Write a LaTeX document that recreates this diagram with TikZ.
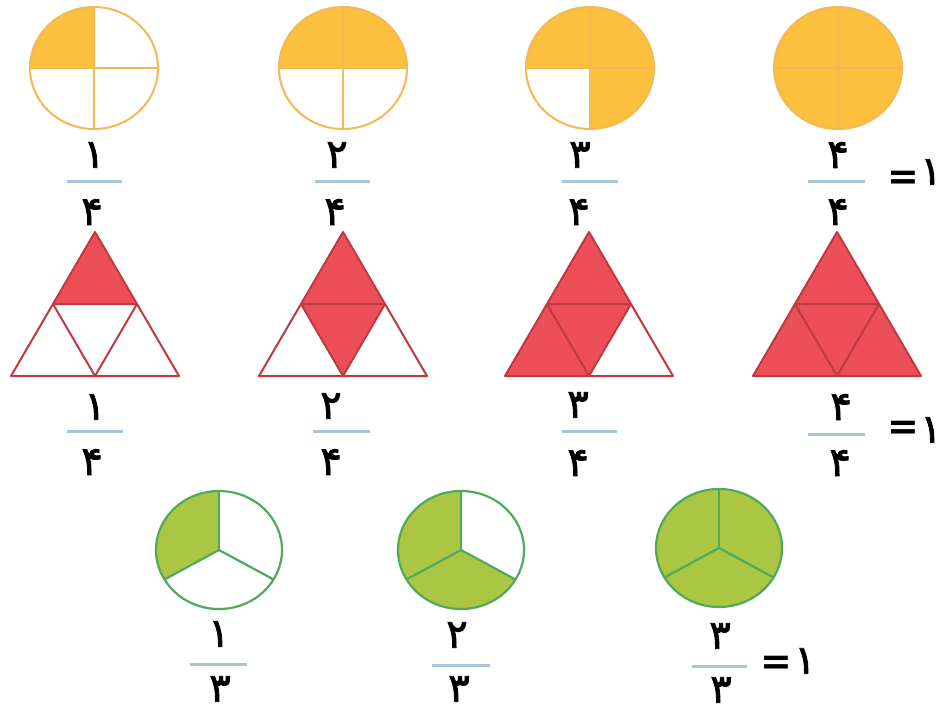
\documentclass[tikz,border=0pt]{standalone}
\usepackage{fontspec}
\usetikzlibrary{calc}
\newfontfamily\arabicfont[Script=Arabic, FakeBold=2]{DejaVu Sans}
\newfontfamily\eqfont{DejaVu Sans}
\definecolor{orfill}{HTML}{FDBF3E}
\definecolor{orline}{HTML}{F2B955}
\definecolor{redfill}{HTML}{EC4F57}
\definecolor{redline}{HTML}{BE3A40}
\definecolor{grfill}{HTML}{ABC642}
\definecolor{grline}{HTML}{4FAA5A}
\definecolor{barcol}{HTML}{A9C5D5}
\tikzset{
  digit/.style={font=\arabicfont\fontsize{40}{44}\selectfont, inner sep=0pt},
  eqsign/.style={font=\eqfont\bfseries\fontsize{38}{42}\selectfont, inner sep=0pt},
  fracbar/.style={draw=barcol, line width=3pt},
  orfil/.style={fill=orfill},
  orstroke/.style={draw=orline, line width=2pt},
  redfil/.style={fill=redfill},
  redstroke/.style={draw=redline, line width=2pt, line join=round},
  grfil/.style={fill=grfill},
  grstroke/.style={draw=grline, line width=2.2pt},
}
\begin{document}
\begin{tikzpicture}[x=1pt,y=1pt]
\useasboundingbox (0,-714) rectangle (947,0);
\fill[white] (0,-714) rectangle (947,0);

% ---------- row 1 : orange circles ----------
\foreach \k/\cx in {1/94,2/343,3/590,4/838}{
  \coordinate (c\k) at (\cx,-68);
}
\fill[orfil] (c1) -- ++(-64,0) arc[start angle=180, end angle=90, x radius=64, y radius=61] -- cycle;
\fill[orfil] (c2) -- ++(-64,0) arc[start angle=180, end angle=0, x radius=64, y radius=61] -- cycle;
\fill[orfil] (c3) -- ++(0,-61) arc[start angle=270, end angle=540, x radius=64, y radius=61] -- cycle;
\fill[orfil] (c4) ellipse[x radius=64, y radius=61];
\foreach \k in {1,2,3,4}{
  \draw[orstroke] (c\k) ellipse[x radius=64, y radius=61];
  \draw[orstroke] ($(c\k)+(-64,0)$) -- ($(c\k)+(64,0)$);
  \draw[orstroke] ($(c\k)+(0,61)$) -- ($(c\k)+(0,-61)$);
}

% ---------- row 2 : red triangles ----------
\foreach \k/\cx in {1/95,2/343,3/589,4/837}{
  \coordinate (tA\k) at (\cx,-232);
  \coordinate (tL\k) at (\cx-84,-376);
  \coordinate (tR\k) at (\cx+84,-376);
  \coordinate (tML\k) at (\cx-42,-304);
  \coordinate (tMR\k) at (\cx+42,-304);
  \coordinate (tB\k) at (\cx,-376);
}
\fill[redfil] (tA1) -- (tML1) -- (tMR1) -- cycle;
\fill[redfil] (tA2) -- (tML2) -- (tB2) -- (tMR2) -- cycle;
\fill[redfil] (tA3) -- (tL3) -- (tB3) -- (tMR3) -- cycle;
\fill[redfil] (tA4) -- (tL4) -- (tR4) -- cycle;
\foreach \k in {1,2,3,4}{
  \draw[redstroke] (tA\k) -- (tL\k) -- (tR\k) -- cycle;
  \draw[redstroke] (tML\k) -- (tMR\k) -- (tB\k) -- cycle;
}

% ---------- row 3 : green circles ----------
\coordinate (g1) at (219,-550);
\coordinate (g2) at (461,-550);
\coordinate (g3) at (719,-548);
\fill[grfil] (g1) -- ++(0,59) arc[start angle=90, end angle=210, x radius=63, y radius=59] -- cycle;
\fill[grfil] (g2) -- ++(0,59) arc[start angle=90, end angle=330, x radius=63, y radius=59] -- cycle;
\fill[grfil] (g3) ellipse[x radius=63, y radius=59];
\foreach \k in {1,2,3}{
  \draw[grstroke] (g\k) ellipse[x radius=63, y radius=59];
  \draw[grstroke] (g\k) -- ++(90:63 and 59);
  \draw[grstroke] (g\k) -- ++(210:63 and 59);
  \draw[grstroke] (g\k) -- ++(330:63 and 59);
}

% ---------- fractions row 1 ----------
\node[digit] (n11) at (94,-155) {۱};
\node[digit] (n12) at (337,-155) {۲};
\node[digit] (n13) at (580,-155) {۳};
\node[digit] (n14) at (838,-155) {۴};
\node[digit] (d11) at (92,-212) {۴};
\node[digit] (d12) at (335,-212) {۴};
\node[digit] (d13) at (579,-212) {۴};
\node[digit] (d14) at (838,-212) {۴};
\coordinate (b11l) at (67,-182);  \coordinate (b11r) at (122,-182);
\coordinate (b12l) at (315,-182); \coordinate (b12r) at (370,-182);
\coordinate (b13l) at (562,-182); \coordinate (b13r) at (618,-182);
\coordinate (b14l) at (808,-182); \coordinate (b14r) at (865,-182);
\foreach \k in {1,2,3,4}{ \draw[fracbar] (b1\k l) -- (b1\k r); }
\node[eqsign] (eq1) at (903,-180) {=};
\node[digit] (one1) at (931,-172) {۱};

% ---------- fractions row 2 ----------
\node[digit] (n21) at (95,-407) {۱};
\node[digit] (n22) at (331,-406) {۲};
\node[digit] (n23) at (578,-405) {۳};
\node[digit] (n24) at (841,-407) {۴};
\node[digit] (d21) at (92,-462) {۴};
\node[digit] (d22) at (331,-462) {۴};
\node[digit] (d23) at (578,-463) {۴};
\node[digit] (d24) at (840,-463) {۴};
\coordinate (b21l) at (67,-431);  \coordinate (b21r) at (123,-431);
\coordinate (b22l) at (313,-431); \coordinate (b22r) at (370,-431);
\coordinate (b23l) at (562,-431); \coordinate (b23r) at (617,-431);
\coordinate (b24l) at (808,-434); \coordinate (b24r) at (865,-434);
\foreach \k in {1,2,3,4}{ \draw[fracbar] (b2\k l) -- (b2\k r); }
\node[eqsign] (eq2) at (903,-430) {=};
\node[digit] (one2) at (931,-430) {۱};

% ---------- fractions row 3 ----------
\node[digit] (n31) at (219,-634) {۱};
\node[digit] (n32) at (457,-635) {۲};
\node[digit] (n33) at (720,-636) {۳};
\node[digit] (d31) at (220,-689) {۳};
\node[digit] (d32) at (459,-689) {۳};
\node[digit] (d33) at (721,-690) {۳};
\coordinate (b31l) at (190,-664); \coordinate (b31r) at (247,-664);
\coordinate (b32l) at (432,-665); \coordinate (b32r) at (490,-665);
\coordinate (b33l) at (692,-666); \coordinate (b33r) at (747,-666);
\foreach \k in {1,2,3}{ \draw[fracbar] (b3\k l) -- (b3\k r); }
\node[eqsign] (eq3) at (776,-665) {=};
\node[digit] (one3) at (805,-661) {۱};
\end{tikzpicture}
\end{document}
